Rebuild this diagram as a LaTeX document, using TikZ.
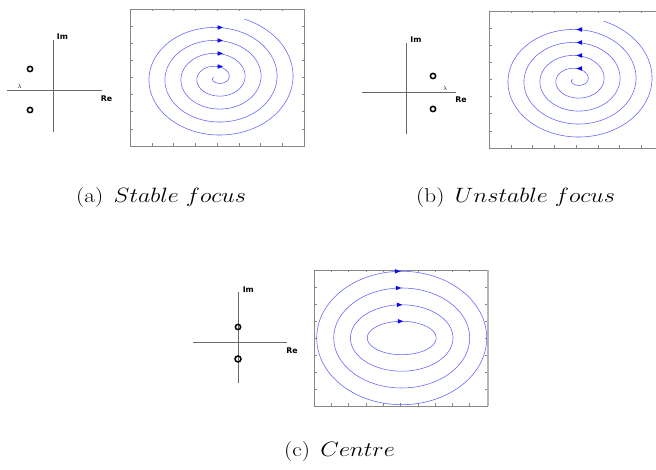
\documentclass[tikz,border=0pt]{standalone}
\usepackage{fontspec}
\usepackage{graphicx}
\newfontfamily\axfont{DejaVu Sans}
\usetikzlibrary{arrows.meta}
\definecolor{spir}{RGB}{95,95,255}
\definecolor{arrc}{RGB}{10,10,235}
\definecolor{frm}{RGB}{135,135,135}
\definecolor{axc}{RGB}{105,105,105}
\tikzset{
 frame/.style={draw=frm, line width=0.8pt},
 tickmark/.style={draw=frm, line width=0.5pt},
 spiral/.style={draw=spir, line width=0.55pt},
 axline/.style={draw=axc, line width=0.8pt},
 root/.style={draw=black, line width=1.5pt, circle, inner sep=0pt, minimum size=5.3pt},
 axlab/.style={font=\axfont\bfseries\fontsize{7.8}{9}\selectfont, inner sep=0pt},
 lam/.style={font=\fontsize{6}{7}\selectfont, inner sep=0pt},
 capt/.style={font=\fontsize{20}{24}\selectfont, inner sep=0pt, anchor=base west},
 ahead/.style={fill=arrc}
}
\begin{document}
\begin{tikzpicture}[x=1pt,y=1pt]
\useasboundingbox (0,0) rectangle (656,470);

% ---------- (a) Stable focus ----------
\coordinate (aL) at (7,380); \coordinate (aR) at (102,380);
\coordinate (aT) at (53,430); \coordinate (aB) at (53,338);
\draw[axline] (aL) -- (aR);
\draw[axline] (aT) -- (aB);
\node[axlab] (aIm) at (62.5,433) {Im};
\node[axlab] (aRe) at (106.5,371.5) {Re};
\node[lam] (aLam) at (19.5,384) {$\lambda$};
\node[root] (ar1) at (30,401) {};
\node[root] (ar2) at (30,360) {};
\draw[frame] (130,324) rectangle (304,461);
\foreach \k in {1,...,7} {
  \draw[tickmark] ({130+21.75*\k},461) -- ++(0,-2.5);
  \draw[tickmark] ({130+21.75*\k},324) -- ++(0,2.5);
  \draw[tickmark] (130,{461-17.125*\k}) -- ++(2.5,0);
  \draw[tickmark] (304,{461-17.125*\k}) -- ++(-2.5,0);
}
\draw[spiral] plot[domain=-0.55:4.2, samples=600, smooth, variable=\t]
  ({217+(12+16*\t)*cos(360*\t)}, {392+(8.25+13*\t)*sin(360*\t)});
\foreach \yy in {442.5,429.5,416.5,403.5} {
  \fill[ahead] (223,\yy) -- ++(-5.5,2.3) -- ++(0,-4.6) -- cycle;
}
\node[capt] (capa) at (76,267.5) {\scalebox{1.16}[1]{(a)\hspace{0.45em}$Stable\ focus$}};

% ---------- (b) Unstable focus ----------
\coordinate (bL) at (362,378); \coordinate (bR) at (456,378);
\coordinate (bT) at (406.7,427); \coordinate (bB) at (406.7,336);
\draw[axline] (bL) -- (bR);
\draw[axline] (bT) -- (bB);
\node[axlab] (bIm) at (416,430.5) {Im};
\node[axlab] (bRe) at (461,370) {Re};
\node[lam] (bLam) at (445,382) {$\lambda$};
\node[root] (br1) at (433,394) {};
\node[root] (br2) at (433,361) {};
\draw[frame] (656,459) -- (489,459) -- (489,322) -- (656,322);
\foreach \k in {1,...,7} {
  \draw[tickmark] ({489+21.75*\k},459) -- ++(0,-2.5);
  \draw[tickmark] ({489+21.75*\k},322) -- ++(0,2.5);
  \draw[tickmark] (489,{459-17.125*\k}) -- ++(2.5,0);
}
\draw[spiral] plot[domain=-0.55:4.2, samples=600, smooth, variable=\t]
  ({576+(12+16*\t)*cos(360*\t)}, {390+(8.25+13*\t)*sin(360*\t)});
\foreach \yy in {440.5,427.5,414.5,401.5} {
  \fill[ahead] (576.5,\yy) -- ++(5.5,2.3) -- ++(0,-4.6) -- cycle;
}
\node[capt] (capb) at (416,267.5) {\scalebox{1.16}[1]{(b)\hspace{0.45em}$Unstable\ focus$}};

% ---------- (c) Centre ----------
\coordinate (cL) at (193,128); \coordinate (cR) at (287,128);
\coordinate (cT) at (238.7,178); \coordinate (cB) at (238.7,87);
\draw[axline] (cL) -- (cR);
\draw[axline] (cT) -- (cB);
\node[axlab] (cIm) at (248.3,180.5) {Im};
\node[axlab] (cRe) at (292,119.5) {Re};
\node[root] (cr1) at (238,143) {};
\node[root, minimum size=6pt] (cr2) at (238,111) {};
\draw[frame] (314,64) rectangle (487,200);
\draw[draw=frm!60, line width=1.6pt] (487.8,64) -- (487.8,200);
\foreach \k in {1,...,9} {
  \draw[tickmark] ({314+17.3*\k},200) -- ++(0,-2.5);
  \draw[tickmark] ({314+17.3*\k},64) -- ++(0,2.5);
}
\foreach \k in {1,...,7} {
  \draw[tickmark] (314,{200-17*\k}) -- ++(2.5,0);
  \draw[tickmark] (487,{200-17*\k}) -- ++(-2.5,0);
}
\draw[spiral] (401.7,132) ellipse [x radius=34.5, y radius=16.7];
\draw[spiral] (401.7,132) ellipse [x radius=51.3, y radius=33.2];
\draw[spiral] (401.7,132) ellipse [x radius=68, y radius=50];
\draw[spiral] (401.7,132) ellipse [x radius=85, y radius=66.7];
\foreach \xx/\yy in {403.3/148.7, 402.3/165.2, 401.3/182, 400.3/198.7} {
  \fill[ahead] (\xx,\yy) -- ++(-5.5,2.3) -- ++(0,-4.6) -- cycle;
}
\node[capt] (capc) at (284,13) {\scalebox{1.16}[1]{(c)\hspace{0.45em}$Centre$}};
\end{tikzpicture}
\end{document}
